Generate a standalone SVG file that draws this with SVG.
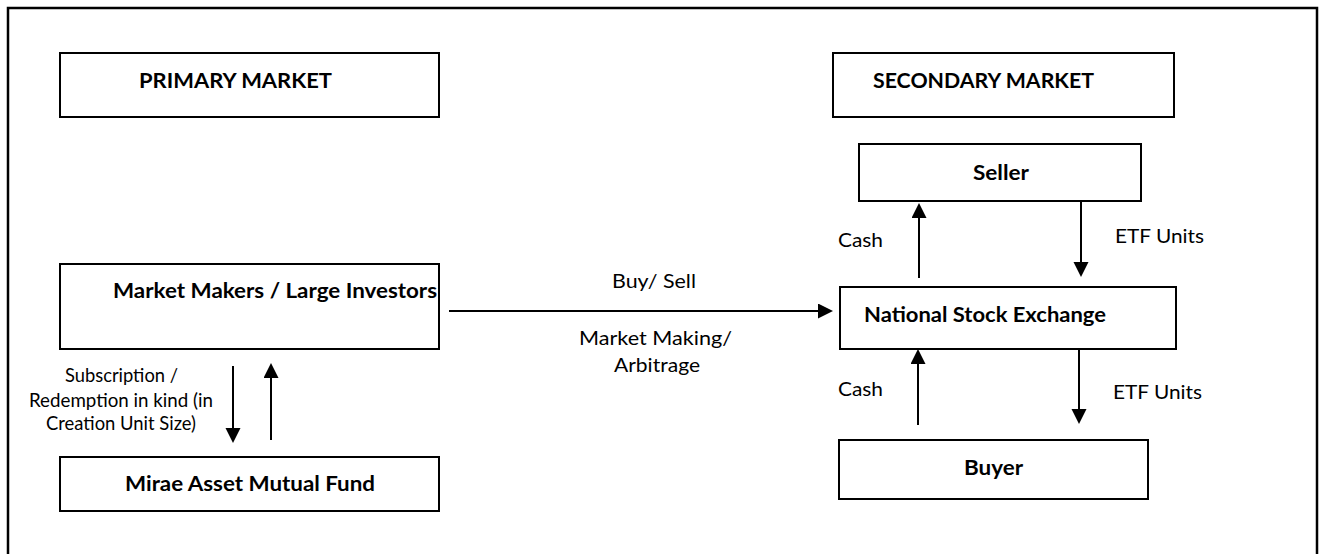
<svg xmlns="http://www.w3.org/2000/svg" width="1326" height="554" viewBox="0 0 1326 554">
<style>
.box{fill:#fff;stroke:#000;stroke-width:2}
.b{font-family:Lato,"Open Sans","Liberation Sans",sans-serif;font-weight:bold;font-size:21px;fill:#000}
.r{font-family:Lato,"Open Sans","Liberation Sans",sans-serif;font-size:20px;fill:#000}
.c{stroke:#000;stroke-width:2;fill:none;marker-end:url(#ah)}
</style>
<defs>
<marker id="ah" markerUnits="userSpaceOnUse" markerWidth="16" markerHeight="16" refX="1" refY="7.5" orient="auto">
<path d="M0,0 L15,7.5 L0,15 z" fill="#000"/>
</marker>
</defs>
<rect x="0" y="0" width="1326" height="554" fill="#fff"/>
<rect x="8" y="8" width="1309" height="560" fill="none" stroke="#000" stroke-width="2.5"/>

<g id="primary-market">
<rect class="box" x="60" y="53" width="379" height="64"/>
<text class="b" x="139" y="88" textLength="193" lengthAdjust="spacingAndGlyphs">PRIMARY MARKET</text>
</g>
<g id="secondary-market">
<rect class="box" x="833" y="53" width="341" height="64"/>
<text class="b" x="873" y="88" textLength="221" lengthAdjust="spacingAndGlyphs">SECONDARY MARKET</text>
</g>
<g id="seller">
<rect class="box" x="859" y="144" width="282" height="57"/>
<text class="b" x="973" y="180" textLength="56" lengthAdjust="spacingAndGlyphs">Seller</text>
</g>
<g id="market-makers">
<rect class="box" x="60" y="264" width="379" height="85"/>
<text class="b" x="113" y="298" textLength="324" lengthAdjust="spacingAndGlyphs">Market Makers / Large Investors</text>
</g>
<g id="nse">
<rect class="box" x="840" y="287" width="336" height="62"/>
<text class="b" x="864" y="322" textLength="242" lengthAdjust="spacingAndGlyphs">National Stock Exchange</text>
</g>
<g id="buyer">
<rect class="box" x="839" y="440" width="309" height="59"/>
<text class="b" x="964" y="475" textLength="59" lengthAdjust="spacingAndGlyphs">Buyer</text>
</g>
<g id="mirae">
<rect class="box" x="60" y="457" width="379" height="54"/>
<text class="b" x="125" y="491" textLength="250" lengthAdjust="spacingAndGlyphs">Mirae Asset Mutual Fund</text>
</g>

<g id="connectors">
<path class="c" d="M449,311 L819,311"/>
<path class="c" d="M233,366 L233,429"/>
<path class="c" d="M271,440 L271,377"/>
<path class="c" d="M919,278 L919,217"/>
<path class="c" d="M1081,201 L1081,263"/>
<path class="c" d="M918,425 L918,363"/>
<path class="c" d="M1079,349 L1079,410"/>
</g>

<g id="labels">
<text class="r" x="612" y="288" textLength="84" lengthAdjust="spacingAndGlyphs">Buy/ Sell</text>
<text class="r" x="579" y="345" textLength="153" lengthAdjust="spacingAndGlyphs">Market Making/</text>
<text class="r" x="614" y="372" textLength="86" lengthAdjust="spacingAndGlyphs">Arbitrage</text>
<text class="r" x="65" y="382" textLength="113" lengthAdjust="spacingAndGlyphs">Subscription /</text>
<text class="r" x="29" y="407" textLength="184" lengthAdjust="spacingAndGlyphs">Redemption in kind (in</text>
<text class="r" x="46" y="430" textLength="150" lengthAdjust="spacingAndGlyphs">Creation Unit Size)</text>
<text class="r" x="838" y="247" textLength="45" lengthAdjust="spacingAndGlyphs">Cash</text>
<text class="r" x="1115" y="243" textLength="89" lengthAdjust="spacingAndGlyphs">ETF Units</text>
<text class="r" x="838" y="396" textLength="45" lengthAdjust="spacingAndGlyphs">Cash</text>
<text class="r" x="1113" y="399" textLength="89" lengthAdjust="spacingAndGlyphs">ETF Units</text>
</g>
</svg>
